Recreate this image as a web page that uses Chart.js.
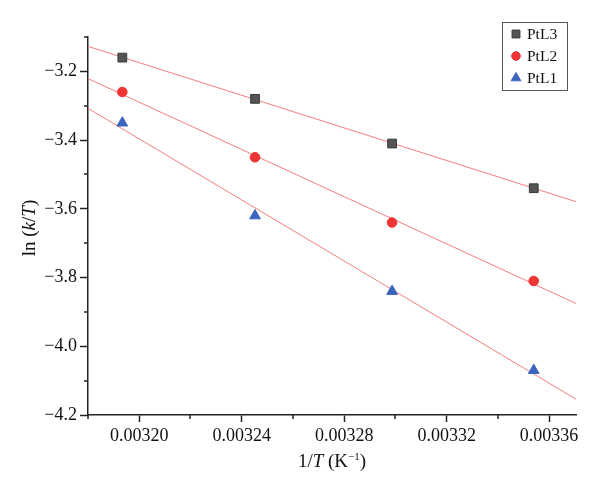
<!DOCTYPE html>
<html>
<head>
<meta charset="utf-8">
<style>
    html, body { margin: 0; padding: 0; background: #fff; }
    #wrap { width: 600px; height: 489px; position: relative; }
</style>
<script src="https://cdn.jsdelivr.net/npm/chart.js@4.4.0/dist/chart.umd.min.js"></script>
</head>
<body>
<div id="wrap"><canvas id="arrhenius" width="600" height="489"></canvas></div>
<script>
// 1/T values (K^-1) for 313, 308, 303, 298 K
const invT = [0.0031934, 0.0032452, 0.0032987, 0.0033540];

// ln(k/T) series
const ptL3 = [-3.16, -3.28, -3.41, -3.54];
const ptL2 = [-3.26, -3.45, -3.64, -3.81];
const ptL1 = [-3.35, -3.62, -3.84, -4.07];

// axis ticks
const xTicks = [0.00320, 0.00324, 0.00328, 0.00332, 0.00336];
const xMinorTicks = [0.00318, 0.00322, 0.00326, 0.00330, 0.00334];
const yTicks = [-4.2, -4.0, -3.8, -3.6, -3.4, -3.2];
const yMinorTicks = [-4.1, -3.9, -3.7, -3.5, -3.3, -3.1];

const xRange = [0.00318, 0.0033705];
const yRange = [-4.2, -3.1];

const FONT = '"Liberation Serif", "DejaVu Serif", serif';
const FIT_COLOR = '#f47c7c';

/**
 * Least squares fit, returned as the two end points across the x range
 */
function fitLine(xs, ys) {
    const n = xs.length;
    const mx = xs.reduce((a, b) => a + b, 0) / n;
    const my = ys.reduce((a, b) => a + b, 0) / n;
    let sxy = 0, sxx = 0;
    for (let i = 0; i < n; i++) {
        sxy += (xs[i] - mx) * (ys[i] - my);
        sxx += (xs[i] - mx) * (xs[i] - mx);
    }
    const slope = sxy / sxx;
    const icpt = my - slope * mx;
    return xRange.map(x => ({ x: x, y: icpt + slope * x }));
}

function points(ys) {
    return invT.map((x, i) => ({ x: x, y: ys[i] }));
}

const series = [
    { label: 'PtL3', data: ptL3, style: 'rect', radius: 6.2, fill: '#545454', border: '#3a3a3a' },
    { label: 'PtL2', data: ptL2, style: 'circle', radius: 4.8, fill: '#ee3434', border: '#ee3434' },
    { label: 'PtL1', data: ptL1, style: 'triangle', radius: 6.2, fill: '#3a64bd', border: '#3a64bd' }
];

const datasets = [];
series.forEach(s => {
    datasets.push({
        type: 'line',
        label: s.label + ' fit',
        data: fitLine(invT, s.data),
        borderColor: FIT_COLOR,
        borderWidth: 1,
        pointRadius: 0,
        fill: false,
        order: 2
    });
});
series.forEach(s => {
    datasets.push({
        type: 'scatter',
        label: s.label,
        data: points(s.data),
        pointStyle: s.style,
        pointRadius: s.radius,
        pointHoverRadius: s.radius,
        backgroundColor: s.fill,
        borderColor: s.border,
        borderWidth: 1,
        order: 1
    });
});

// draws mixed upright / italic text runs centred on x
function drawRuns(ctx, runs, x, y) {
    let w = 0;
    runs.forEach(p => { ctx.font = p.f; w += ctx.measureText(p.t).width; });
    let cx = x - w / 2;
    runs.forEach(p => {
        ctx.font = p.f;
        ctx.fillText(p.t, cx, y - (p.up || 0));
        cx += ctx.measureText(p.t).width;
    });
}

// minor ticks, axis titles with italics, framed legend
const decorPlugin = {
    id: 'decor',
    afterDraw(chart) {
        const ctx = chart.ctx;
        const xs = chart.scales.x;
        const ys = chart.scales.y;
        const area = chart.chartArea;
        ctx.save();
        ctx.strokeStyle = '#222';
        ctx.lineWidth = 1.5;
        ctx.beginPath();
        xMinorTicks.forEach(v => {
            const px = Math.round(xs.getPixelForValue(v));
            ctx.moveTo(px, area.bottom);
            ctx.lineTo(px, area.bottom + 4);
        });
        yMinorTicks.forEach(v => {
            const py = Math.round(ys.getPixelForValue(v));
            ctx.moveTo(area.left, py);
            ctx.lineTo(area.left - 4, py);
        });
        ctx.stroke();

        ctx.fillStyle = '#111';
        ctx.textBaseline = 'alphabetic';

        // x title: 1/T (K⁻¹)
        drawRuns(ctx, [
            { t: '1/', f: '19px ' + FONT },
            { t: 'T', f: 'italic 19px ' + FONT },
            { t: ' (K', f: '19px ' + FONT },
            { t: '−1', f: '11px ' + FONT, up: 7 },
            { t: ')', f: '19px ' + FONT }
        ], (area.left + area.right) / 2, 467);

        // y title: ln (k/T)
        ctx.translate(35, 228);
        ctx.rotate(-Math.PI / 2);
        drawRuns(ctx, [
            { t: 'ln (', f: '19px ' + FONT },
            { t: 'k', f: 'italic 19px ' + FONT },
            { t: '/', f: '19px ' + FONT },
            { t: 'T', f: 'italic 19px ' + FONT },
            { t: ')', f: '19px ' + FONT }
        ], 0, 0);
        ctx.restore();

        // legend box
        ctx.save();
        ctx.strokeStyle = '#555';
        ctx.lineWidth = 1;
        ctx.strokeRect(502.5, 22.5, 65, 68);
        ctx.font = '15.5px ' + FONT;
        ctx.textBaseline = 'middle';
        series.forEach((s, i) => {
            const y = 34 + i * 22;
            ctx.fillStyle = s.fill;
            ctx.strokeStyle = s.border;
            Chart.helpers.drawPoint(ctx, { pointStyle: s.style, radius: s.radius * 0.9, borderWidth: 1 }, 516, y);
            ctx.fillStyle = '#111';
            ctx.fillText(s.label, 527, y + 1);
        });
        ctx.restore();
    }
};

document.addEventListener('DOMContentLoaded', function() {
    const ctx = document.getElementById('arrhenius').getContext('2d');

    new Chart(ctx, {
        type: 'scatter',
        data: { datasets: datasets },
        options: {
            responsive: false,
            animation: false,
            devicePixelRatio: 1,
            layout: { padding: { top: 37, right: 24, left: 0, bottom: 0 } },
            plugins: {
                legend: { display: false },
                tooltip: { enabled: false }
            },
            scales: {
                x: {
                    type: 'linear',
                    min: xRange[0],
                    max: xRange[1],
                    afterBuildTicks: scale => { scale.ticks = xTicks.map(v => ({ value: v })); },
                    afterFit: scale => { scale.height = 74; },
                    border: { color: '#222', width: 1.5 },
                    grid: { drawOnChartArea: false, tickLength: 7, tickColor: '#222', tickWidth: 1.5 },
                    ticks: {
                        color: '#111',
                        padding: 3,
                        maxRotation: 0,
                        autoSkip: false,
                        font: { family: FONT, size: 18 },
                        callback: v => v.toFixed(5)
                    }
                },
                y: {
                    type: 'linear',
                    min: yRange[0],
                    max: yRange[1],
                    afterBuildTicks: scale => { scale.ticks = yTicks.map(v => ({ value: v })); },
                    afterFit: scale => { scale.width = 88; },
                    border: { color: '#222', width: 1.5 },
                    grid: { drawOnChartArea: false, tickLength: 8, tickColor: '#222', tickWidth: 1.5 },
                    ticks: {
                        color: '#111',
                        padding: 3,
                        autoSkip: false,
                        font: { family: FONT, size: 18 },
                        callback: v => '−' + Math.abs(v).toFixed(1)
                    }
                }
            }
        },
        plugins: [decorPlugin]
    });
});
</script>
</body>
</html>
